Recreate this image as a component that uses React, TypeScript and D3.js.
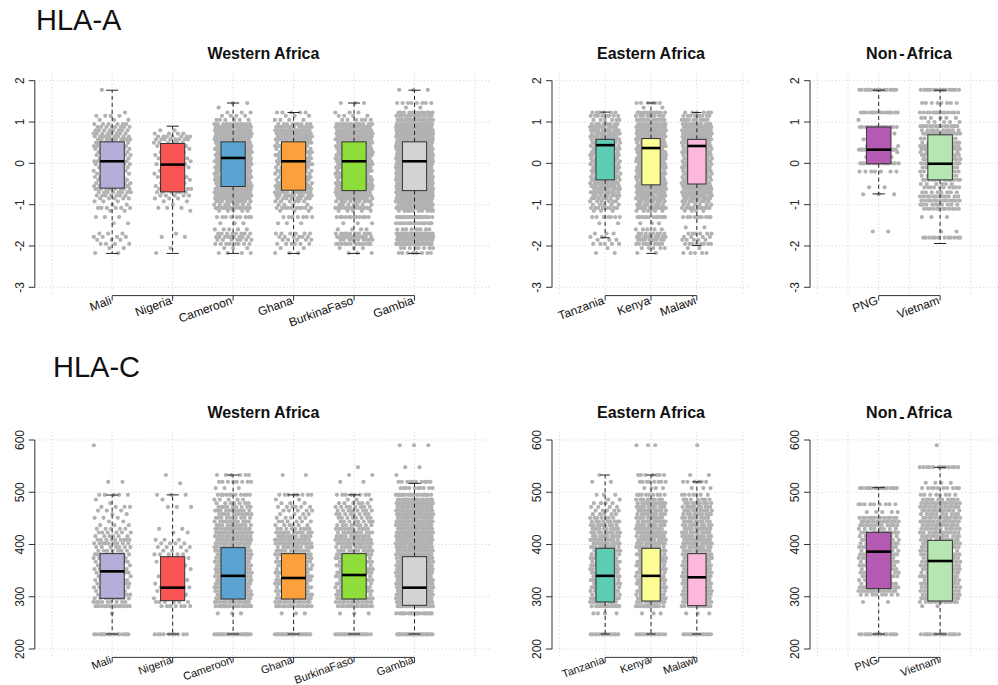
import React from "react";
import * as d3 from "d3";

type Lv = [number, number][];

// ---------- categories ----------
const westCountries = ["Mali", "Nigeria", "Cameroon", "Ghana", "BurkinaFaso", "Gambia"];
const eastCountries = ["Tanzania", "Kenya", "Malawi"];
const nonCountries = ["PNG", "Vietnam"];

const westColors = ["#B4AED8", "#FA5555", "#5BA3D0", "#FCA03C", "#8FDD3A", "#D3D3D3"];
const eastColors = ["#5FCDB6", "#FDFD96", "#FDB8DE"];
const nonColors = ["#B55AB2", "#B6E6B2"];

const panelTitles = ["Western Africa", "Eastern Africa", "Non-Africa"];
const geneLabels = ["HLA-A", "HLA-C"];

const hlaATicks = [-3, -2, -1, 0, 1, 2];
const hlaCTicks = [200, 300, 400, 500, 600];

// ---------- box stats: [lower whisker, Q1, median, Q3, upper whisker] ----------
const hlaAWestStats = [
  [-2.18, -0.6, 0.05, 0.52, 1.77],
  [-2.18, -0.69, -0.03, 0.48, 0.9],
  [-2.18, -0.56, 0.13, 0.52, 1.46],
  [-2.18, -0.65, 0.05, 0.52, 1.23],
  [-2.18, -0.66, 0.05, 0.52, 1.46],
  [-2.18, -0.66, 0.05, 0.52, 1.77],
];
const hlaAEastStats = [
  [-1.8, -0.4, 0.44, 0.58, 1.24],
  [-2.18, -0.52, 0.37, 0.6, 1.46],
  [-1.99, -0.5, 0.42, 0.58, 1.23],
];
const hlaANonStats = [
  [-0.74, -0.01, 0.33, 0.88, 1.77],
  [-1.94, -0.4, -0.01, 0.69, 1.77],
];
const hlaCWestStats = [
  [228.7, 297, 348.6, 382.5, 494.7],
  [228.7, 292.5, 317.4, 376.7, 495],
  [228.7, 295.7, 340, 394, 533],
  [228.7, 295.7, 335.9, 382.5, 495],
  [228.7, 295.7, 341.6, 382.5, 495],
  [228.7, 283.6, 317.4, 376.7, 517],
];
const hlaCEastStats = [
  [228.7, 290, 340, 392.7, 533],
  [228.7, 291.9, 340, 392.7, 533],
  [228.7, 283, 337.2, 382.5, 520],
];
const hlaCNonStats = [
  [228.7, 315.5, 386.3, 423.3, 508.8],
  [228.7, 291.9, 368.4, 408, 547.7],
];

// ---------- observed points: [value, count] ----------
const hlaAMali: Lv = [[1.78,1],[1.23,1],[1.15,4],[1.05,3],[0.95,6],[0.88,8],[0.8,8],[0.72,8],[0.65,9],[0.58,10],[0.5,8],[0.42,7],[0.35,7],[0.27,6],[0.2,7],[0.12,7],[0.05,7],[-0.02,7],[-0.1,6],[-0.18,6],[-0.25,5],[-0.33,5],[-0.4,6],[-0.48,8],[-0.55,9],[-0.62,10],[-0.7,8],[-0.78,7],[-0.85,5],[-0.92,3],[-1.0,2],[-1.08,6],[-1.15,2],[-1.3,3],[-1.45,2],[-1.7,3],[-1.78,4],[-1.85,3],[-1.95,4],[-2.05,2],[-2.17,2]];
const hlaANigeria: Lv = [[0.8,2],[0.72,4],[0.65,7],[0.58,8],[0.5,6],[0.42,4],[0.35,4],[0.27,3],[0.2,3],[0.12,3],[0.05,4],[-0.02,4],[-0.1,4],[-0.18,3],[-0.25,3],[-0.33,3],[-0.4,3],[-0.48,3],[-0.55,4],[-0.62,6],[-0.7,6],[-0.78,5],[-0.85,3],[-0.92,2],[-1.0,1],[-1.08,3],[-1.15,1],[-1.7,1],[-1.78,2],[-2.05,1],[-2.17,1]];
const hlaACameroon: Lv = [[1.46,2],[1.35,1],[1.23,3],[1.15,4],[1.05,6],[0.95,12],[0.88,16],[0.8,17],[0.72,17],[0.65,17],[0.58,17],[0.5,15],[0.42,14],[0.35,14],[0.27,13],[0.2,14],[0.12,14],[0.05,14],[-0.02,13],[-0.1,13],[-0.18,13],[-0.25,12],[-0.33,12],[-0.4,13],[-0.48,15],[-0.55,17],[-0.62,17],[-0.7,16],[-0.78,15],[-0.85,13],[-0.92,10],[-1.0,8],[-1.08,14],[-1.15,5],[-1.3,9],[-1.45,3],[-1.6,5],[-1.7,8],[-1.78,9],[-1.85,7],[-1.95,8],[-2.05,3],[-2.17,4]];
const hlaAGhana: Lv = [[1.23,5],[1.15,3],[1.05,4],[0.95,9],[0.88,12],[0.8,13],[0.72,13],[0.65,13],[0.58,13],[0.5,11],[0.42,10],[0.35,10],[0.27,9],[0.2,10],[0.12,10],[0.05,10],[-0.02,9],[-0.1,9],[-0.18,9],[-0.25,8],[-0.33,8],[-0.4,9],[-0.48,11],[-0.55,13],[-0.62,13],[-0.7,12],[-0.78,10],[-0.85,8],[-0.92,6],[-1.0,4],[-1.08,10],[-1.15,3],[-1.3,7],[-1.45,3],[-1.7,6],[-1.78,6],[-1.85,5],[-1.95,6],[-2.05,2],[-2.17,3]];
const hlaABurkina: Lv = [[1.46,3],[1.23,3],[1.15,4],[1.05,6],[0.95,12],[0.88,15],[0.8,16],[0.72,16],[0.65,16],[0.58,16],[0.5,14],[0.42,13],[0.35,13],[0.27,12],[0.2,13],[0.12,13],[0.05,13],[-0.02,12],[-0.1,12],[-0.18,12],[-0.25,11],[-0.33,11],[-0.4,12],[-0.48,14],[-0.55,16],[-0.62,16],[-0.7,15],[-0.78,14],[-0.85,12],[-0.92,9],[-1.0,7],[-1.08,14],[-1.15,5],[-1.3,12],[-1.45,3],[-1.6,4],[-1.7,10],[-1.78,12],[-1.85,10],[-1.95,12],[-2.05,3],[-2.17,3]];
const hlaAGambia: Lv = [[1.78,3],[1.46,8],[1.35,2],[1.23,12],[1.15,16],[1.05,20],[0.95,22],[0.88,24],[0.8,24],[0.72,24],[0.65,24],[0.58,24],[0.5,22],[0.42,20],[0.35,20],[0.27,20],[0.2,20],[0.12,20],[0.05,20],[-0.02,20],[-0.1,20],[-0.18,20],[-0.25,20],[-0.33,20],[-0.4,22],[-0.48,22],[-0.55,24],[-0.62,24],[-0.7,24],[-0.78,22],[-0.85,22],[-0.92,18],[-1.0,14],[-1.08,24],[-1.15,10],[-1.3,20],[-1.45,14],[-1.6,8],[-1.7,20],[-1.78,24],[-1.85,22],[-1.95,22],[-2.05,8],[-2.17,8]];

const hlaATanzania: Lv = [[1.23,6],[1.15,8],[1.05,6],[0.95,9],[0.88,11],[0.8,11],[0.72,11],[0.65,11],[0.58,11],[0.5,10],[0.42,9],[0.35,9],[0.27,9],[0.2,9],[0.12,9],[0.05,9],[-0.02,9],[-0.1,9],[-0.18,9],[-0.25,9],[-0.33,9],[-0.4,10],[-0.48,11],[-0.55,11],[-0.62,11],[-0.7,11],[-0.78,9],[-0.85,7],[-0.92,6],[-1.0,5],[-1.08,9],[-1.15,3],[-1.3,7],[-1.45,2],[-1.7,3],[-1.78,2],[-1.85,3],[-1.95,5],[-2.05,1],[-2.17,2]];
const hlaAKenya: Lv = [[1.46,6],[1.35,2],[1.23,12],[1.15,10],[1.05,12],[0.95,13],[0.88,13],[0.8,13],[0.72,13],[0.65,13],[0.58,13],[0.5,12],[0.42,12],[0.35,12],[0.27,12],[0.2,12],[0.12,12],[0.05,12],[-0.02,12],[-0.1,12],[-0.18,12],[-0.25,12],[-0.33,12],[-0.4,12],[-0.48,13],[-0.55,13],[-0.62,13],[-0.7,13],[-0.78,12],[-0.85,11],[-0.92,9],[-1.0,8],[-1.08,12],[-1.15,6],[-1.3,12],[-1.45,3],[-1.6,5],[-1.7,8],[-1.78,10],[-1.85,10],[-1.95,10],[-2.05,5],[-2.17,2]];
const hlaAMalawi: Lv = [[1.23,6],[1.15,9],[1.05,10],[0.95,12],[0.88,13],[0.8,13],[0.72,13],[0.65,13],[0.58,13],[0.5,12],[0.42,11],[0.35,11],[0.27,11],[0.2,11],[0.12,11],[0.05,11],[-0.02,11],[-0.1,11],[-0.18,11],[-0.25,11],[-0.33,11],[-0.4,11],[-0.48,12],[-0.55,13],[-0.62,13],[-0.7,13],[-0.78,12],[-0.85,10],[-0.92,8],[-1.0,6],[-1.08,11],[-1.15,4],[-1.3,10],[-1.55,2],[-1.7,6],[-1.78,4],[-1.85,5],[-1.95,8],[-2.05,2],[-2.17,5]];
const hlaAPNG: Lv = [[1.78,16],[1.23,16],[1.05,1],[0.88,14],[0.72,3],[0.58,3],[0.42,3],[0.33,16],[0.27,3],[0.15,3],[0.0,16],[-0.2,7],[-0.58,2],[-0.75,3],[-1.65,2]];
const hlaAVietnam: Lv = [[1.78,16],[1.46,8],[1.23,14],[1.1,6],[1.0,5],[0.9,16],[0.8,10],[0.72,16],[0.6,10],[0.5,10],[0.42,14],[0.35,16],[0.27,10],[0.2,12],[0.1,12],[0.0,16],[-0.1,10],[-0.2,12],[-0.3,8],[-0.4,12],[-0.5,6],[-0.58,10],[-0.7,8],[-0.8,12],[-0.9,14],[-1.0,10],[-1.1,12],[-1.3,3],[-1.65,2],[-1.8,12]];

const hlaCMali: Lv = [[228,15],[268,1],[282,13],[290,9],[297,9],[304,7],[311,7],[318,8],[325,7],[332,7],[339,7],[346,7],[353,7],[360,7],[367,7],[374,8],[381,9],[388,7],[395,7],[402,9],[409,9],[416,6],[423,6],[430,5],[437,3],[444,2],[451,3],[458,2],[465,3],[472,4],[479,1],[486,1],[495,5],[520,2],[590,1]];
const hlaCNigeria: Lv = [[228,10],[282,7],[290,6],[297,5],[304,2],[311,3],[318,5],[325,2],[332,2],[339,2],[346,2],[353,2],[360,2],[367,3],[374,3],[381,5],[388,3],[395,4],[402,4],[409,3],[423,2],[430,2],[472,3],[486,1],[495,3],[517,1],[533,1]];
const hlaCCameroon: Lv = [[228,22],[268,3],[282,17],[290,15],[297,15],[304,13],[311,13],[318,13],[325,13],[332,13],[339,13],[346,13],[353,13],[360,13],[367,13],[374,13],[381,13],[388,13],[395,13],[402,13],[409,14],[416,14],[423,15],[430,13],[437,11],[444,11],[451,9],[458,11],[465,11],[472,9],[479,7],[486,5],[495,11],[508,3],[520,8],[533,6]];
const hlaCGhana: Lv = [[228,20],[268,3],[282,15],[290,13],[297,13],[304,11],[311,11],[318,11],[325,11],[332,11],[339,11],[346,11],[353,11],[360,11],[367,11],[374,11],[381,13],[388,11],[395,11],[402,13],[409,13],[416,11],[423,11],[430,9],[437,6],[444,6],[451,5],[458,4],[465,5],[472,6],[479,3],[486,2],[495,8],[533,2]];
const hlaCBurkina: Lv = [[228,20],[268,3],[282,15],[290,13],[297,13],[304,11],[311,11],[318,11],[325,11],[332,11],[339,11],[346,11],[353,11],[360,11],[367,11],[374,11],[381,13],[388,11],[395,11],[402,13],[409,13],[416,11],[423,11],[430,11],[437,8],[444,8],[451,8],[458,8],[465,8],[472,8],[479,6],[486,3],[495,8],[520,2],[533,2],[548,1]];
const hlaCGambia: Lv = [[228,26],[268,18],[282,20],[290,19],[297,19],[304,19],[311,19],[318,19],[325,19],[332,19],[339,19],[346,19],[353,19],[360,19],[367,19],[374,19],[381,19],[388,19],[395,19],[402,19],[409,19],[416,19],[423,19],[430,19],[437,18],[444,18],[451,18],[458,18],[465,18],[472,18],[479,17],[486,16],[495,17],[508,10],[520,10],[533,1],[548,2],[590,3]];

const hlaCTanzania: Lv = [[228,13],[268,4],[282,12],[290,11],[297,11],[304,10],[311,10],[318,10],[325,10],[332,10],[339,10],[346,10],[353,10],[360,10],[367,10],[374,10],[381,10],[388,10],[395,10],[402,11],[409,11],[416,10],[423,10],[430,10],[437,9],[444,9],[451,7],[458,5],[465,5],[472,4],[479,4],[486,2],[495,3],[520,2],[533,1]];
const hlaCKenya: Lv = [[228,13],[268,3],[282,12],[290,12],[297,12],[304,11],[311,11],[318,11],[325,11],[332,11],[339,11],[346,11],[353,11],[360,11],[367,11],[374,11],[381,11],[388,11],[395,11],[402,12],[409,12],[416,12],[423,12],[430,12],[437,11],[444,11],[451,11],[458,11],[465,11],[472,11],[479,11],[486,9],[495,9],[508,4],[520,8],[533,7],[590,3]];
const hlaCMalawi: Lv = [[228,13],[268,3],[282,12],[290,12],[297,12],[304,11],[311,11],[318,11],[325,11],[332,11],[339,11],[346,11],[353,11],[360,11],[367,11],[374,11],[381,11],[388,11],[395,11],[402,12],[409,12],[416,11],[423,11],[430,11],[437,10],[444,10],[451,10],[458,10],[465,10],[472,10],[479,9],[486,7],[495,7],[508,3],[520,6],[533,2],[590,1]];
const hlaCPNG: Lv = [[228,16],[290,2],[304,8],[311,14],[318,14],[325,8],[332,6],[339,10],[346,10],[353,8],[360,10],[367,12],[374,10],[381,12],[388,10],[395,12],[402,10],[409,12],[416,8],[423,12],[430,8],[437,12],[444,14],[451,14],[462,5],[477,9],[508,16]];
const hlaCVietnam: Lv = [[228,16],[282,2],[290,12],[297,14],[304,14],[311,12],[318,12],[325,12],[332,12],[339,14],[346,12],[353,12],[360,14],[367,12],[374,12],[381,12],[388,12],[395,12],[402,14],[409,12],[416,12],[423,12],[430,12],[437,12],[444,14],[451,14],[458,10],[465,12],[472,14],[479,14],[486,10],[495,8],[508,10],[518,4],[548,12],[590,1]];

const hlaAWestPts = [hlaAMali, hlaANigeria, hlaACameroon, hlaAGhana, hlaABurkina, hlaAGambia];
const hlaAEastPts = [hlaATanzania, hlaAKenya, hlaAMalawi];
const hlaANonPts = [hlaAPNG, hlaAVietnam];
const hlaCWestPts = [hlaCMali, hlaCNigeria, hlaCCameroon, hlaCGhana, hlaCBurkina, hlaCGambia];
const hlaCEastPts = [hlaCTanzania, hlaCKenya, hlaCMalawi];
const hlaCNonPts = [hlaCPNG, hlaCVietnam];

// ---------- layout ----------
const FONT = "'Liberation Sans', Arial, Helvetica, sans-serif";
const panelsX = [
  { countries: westCountries, colors: westColors, pos: [1, 2, 3, 4, 5, 6], xmax: 7, range: [51.7, 475], left: 34.8, right: 492, boxW: 0.4, jit: 0.31, grid: 7 },
  { countries: eastCountries, colors: eastColors, pos: [1, 2, 3], xmax: 4, range: [559.3, 742.7], left: 552, right: 750, boxW: 0.4, jit: 0.33, grid: 4 },
  { countries: nonCountries, colors: nonColors, pos: [2, 4], xmax: 6, range: [817.3, 1001.5], left: 810, right: 1008, boxW: 0.8, jit: 0.66, grid: 6 },
];
const rowsY = [
  { domain: [-3, 2], range: [287.3, 80.7], top: 72.4, bottom: 295.6, ticks: hlaATicks, titleY: 59, gene: geneLabels[0], geneX: 36, geneY: 30, labelDy: 8, labelFs: 12,
    stats: [hlaAWestStats, hlaAEastStats, hlaANonStats], pts: [hlaAWestPts, hlaAEastPts, hlaANonPts], dashLow: false },
  { domain: [200, 600], range: [649, 440], top: 431.6, bottom: 657.4, ticks: hlaCTicks, titleY: 418, gene: geneLabels[1], geneX: 53, geneY: 377, labelDy: 5.5, labelFs: 11,
    stats: [hlaCWestStats, hlaCEastStats, hlaCNonStats], pts: [hlaCWestPts, hlaCEastPts, hlaCNonPts], dashLow: true },
];

const GOLD = 0.6180339887;

function Panel({ row, p, pi }: any) {
  const y = d3.scaleLinear().domain(row.domain).range(row.range);
  const x = d3.scaleLinear().domain([0, p.xmax]).range(p.range);
  const unit = x(1) - x(0);
  const stats = row.stats[pi];
  const pts = row.pts[pi];
  const gridX = d3.range(0, p.grid + 1);
  const axisY = row.bottom;
  const titleX = (p.left + p.right) / 2;
  const title = panelTitles[pi];
  return (
    <g>
      {/* grid */}
      {row.ticks.map((t: number) => (
        <line key={"h" + t} x1={p.left} x2={p.right} y1={y(t)} y2={y(t)} stroke="#D6D6D6" strokeWidth={1} strokeDasharray="1.2,2.4" />
      ))}
      {gridX.map((g: number) => (
        <line key={"v" + g} x1={x(g)} x2={x(g)} y1={row.top} y2={row.bottom} stroke="#D6D6D6" strokeWidth={1} strokeDasharray="1.2,2.4" />
      ))}
      {/* points */}
      {pts.map((lv: Lv, ci: number) => {
        const cx = x(p.pos[ci]);
        const hw = p.jit * unit;
        let k = ci * 7 + 3;
        const circles: any[] = [];
        lv.forEach(([v, n]) => {
          for (let i = 0; i < n; i++) {
            const f = (0.37 + k * GOLD) % 1;
            k++;
            circles.push(<circle key={v + "_" + i} cx={cx + (f * 2 - 1) * hw} cy={y(v)} r={2.1} fill="#B2B2B2" />);
          }
        });
        return <g key={"p" + ci}>{circles}</g>;
      })}
      {/* boxes */}
      {stats.map((s: number[], ci: number) => {
        const cx = x(p.pos[ci]);
        const bw = p.boxW * unit;
        const cap = bw / 2;
        return (
          <g key={"b" + ci}>
            <line x1={cx} x2={cx} y1={y(s[3])} y2={y(s[4])} stroke="#222" strokeWidth={1} strokeDasharray="4,3" />
            <line x1={cx} x2={cx} y1={y(s[1])} y2={y(s[0])} stroke="#222" strokeWidth={1} strokeDasharray="4,3" />
            <line x1={cx - cap / 2} x2={cx + cap / 2} y1={y(s[4])} y2={y(s[4])} stroke="#222" strokeWidth={1} />
            <line x1={cx - cap / 2} x2={cx + cap / 2} y1={y(s[0])} y2={y(s[0])} stroke="#222" strokeWidth={1} />
            <rect x={cx - bw / 2} y={y(s[3])} width={bw} height={y(s[1]) - y(s[3])} fill={p.colors[ci]} stroke="#333" strokeWidth={1} />
            <line x1={cx - bw / 2} x2={cx + bw / 2} y1={y(s[2])} y2={y(s[2])} stroke="#000" strokeWidth={2.6} />
          </g>
        );
      })}
      {/* y axis */}
      <line x1={p.left} x2={p.left} y1={y(row.ticks[0])} y2={y(row.ticks[row.ticks.length - 1])} stroke="#333" strokeWidth={1} />
      {row.ticks.map((t: number) => (
        <g key={"yt" + t}>
          <line x1={p.left - 6} x2={p.left} y1={y(t)} y2={y(t)} stroke="#333" strokeWidth={1} />
          <text transform={`translate(${p.left - 11},${y(t)}) rotate(-90)`} textAnchor="middle" fontSize={12} fontFamily={FONT} fill="#222">{t}</text>
        </g>
      ))}
      {/* x axis */}
      <line x1={x(p.pos[0])} x2={x(p.pos[p.pos.length - 1])} y1={axisY} y2={axisY} stroke="#333" strokeWidth={1} />
      {p.countries.map((c: string, ci: number) => (
        <g key={"xt" + c}>
          <line x1={x(p.pos[ci])} x2={x(p.pos[ci])} y1={axisY} y2={axisY + 5} stroke="#333" strokeWidth={1} />
          <text transform={`translate(${x(p.pos[ci])},${axisY + row.labelDy}) rotate(-20)`} textAnchor="end" fontSize={row.labelFs} fontFamily={FONT} fill="#111">{c}</text>
        </g>
      ))}
      {/* title */}
      {pi === 2 ? (
        <text x={titleX} y={row.titleY} textAnchor="middle" fontSize={16} fontWeight="bold" fontFamily={FONT} fill="#111">
          <tspan>Non</tspan>
          <tspan dx={2} dy={row.dashLow ? 4 : 0}>-</tspan>
          <tspan dx={2} dy={row.dashLow ? -4 : 0}>Africa</tspan>
        </text>
      ) : (
        <text x={titleX} y={row.titleY} textAnchor="middle" fontSize={16} fontWeight="bold" fontFamily={FONT} fill="#111">{title}</text>
      )}
    </g>
  );
}

export default function App() {
  return (
    <svg width={998} height={685} style={{ position: "absolute", left: 0, top: 0, background: "#fff" }}>
      <rect x={0} y={0} width={998} height={685} fill="#fff" />
      {rowsY.map((row, ri) => (
        <g key={"r" + ri}>
          <text x={row.geneX} y={row.geneY} fontSize={29} fontFamily={FONT} fill="#111">{row.gene}</text>
          {panelsX.map((p, pi) => (
            <Panel key={pi} row={row} p={p} pi={pi} />
          ))}
        </g>
      ))}
    </svg>
  );
}
